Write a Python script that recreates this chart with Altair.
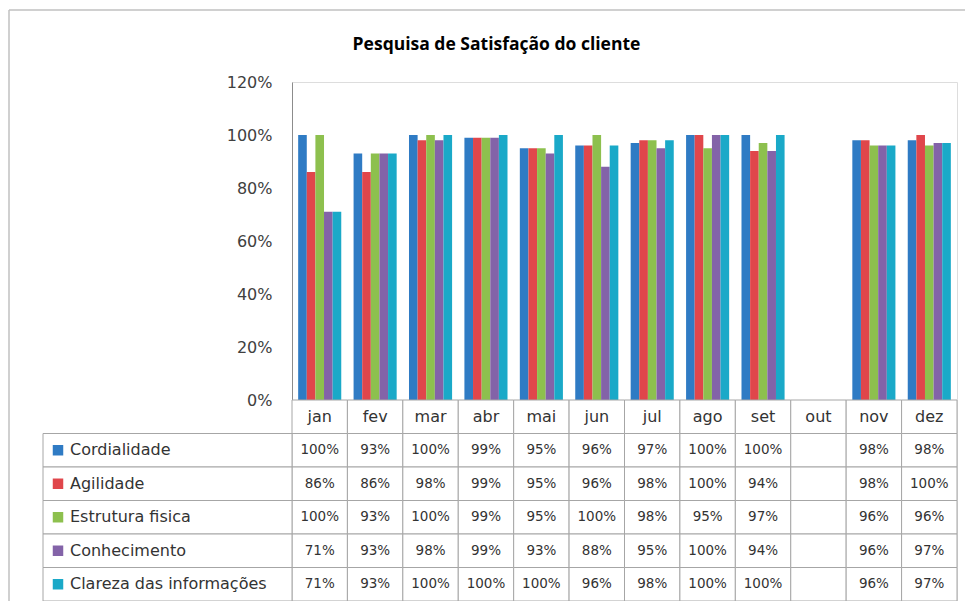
import altair as alt
import pandas as pd

months = ["jan", "fev", "mar", "abr", "mai", "jun", "jul", "ago", "set", "out", "nov", "dez"]
data_months = ["jan", "fev", "mar", "abr", "mai", "jun", "jul", "ago", "set", "nov", "dez"]
series = ["Cordialidade", "Agilidade", "Estrutura fisica", "Conhecimento", "Clareza das informações"]
colors = ["#2F7BC4", "#E0464B", "#8DC04E", "#8363A8", "#1AA9C8"]

cordialidade = [1.00, 0.93, 1.00, 0.99, 0.95, 0.96, 0.97, 1.00, 1.00, 0.98, 0.98]
agilidade = [0.86, 0.86, 0.98, 0.99, 0.95, 0.96, 0.98, 1.00, 0.94, 0.98, 1.00]
estrutura = [1.00, 0.93, 1.00, 0.99, 0.95, 1.00, 0.98, 0.95, 0.97, 0.96, 0.96]
conhecimento = [0.71, 0.93, 0.98, 0.99, 0.93, 0.88, 0.95, 1.00, 0.94, 0.96, 0.97]
clareza = [0.71, 0.93, 1.00, 1.00, 1.00, 0.96, 0.98, 1.00, 1.00, 0.96, 0.97]
y_ticks = [0, 0.2, 0.4, 0.6, 0.8, 1.0, 1.2]

title = "Pesquisa de Satisfação do cliente"

values = [cordialidade, agilidade, estrutura, conhecimento, clareza]
rows = []
for s, vals in zip(series, values):
    for m, v in zip(data_months, vals):
        rows.append({"month": m, "series": s, "value": v, "row": s})
df = pd.DataFrame(rows)

HDR = "hdr"
row_domain = [HDR] + series

W = 665
BAR_H = 318
ROW = 33.5
H = BAR_H + 6 * ROW

cells = pd.DataFrame([{"month": m, "row": r} for r in row_domain for m in months])
header = pd.DataFrame([{"month": m, "row": HDR} for m in months])
labels = pd.DataFrame([{"row": s, "series": s} for s in series])
frame = pd.DataFrame([{"k": 1}])

FONT = "DejaVu Sans"
TXT = "#333333"
GRID = "#A6A6A6"
FRAME = "#C0C0C0"

xscale = alt.Scale(domain=months, paddingInner=0, paddingOuter=0)
yrow = alt.Scale(domain=row_domain, range=[BAR_H, H], paddingInner=0, paddingOuter=0)
cscale = alt.Scale(domain=series, range=colors)

bars = alt.Chart(df).mark_bar().encode(
    x=alt.X("month:N", scale=xscale, axis=None),
    xOffset=alt.XOffset("series:N", scale=alt.Scale(domain=series, paddingInner=0, paddingOuter=0.715)),
    y=alt.Y(
        "value:Q",
        scale=alt.Scale(domain=[0, 1.2], range=[BAR_H, 0], nice=False),
        axis=alt.Axis(
            format="%", values=y_ticks, ticks=False, grid=False, title=None,
            labelFont=FONT, labelFontSize=16, labelColor="#404040",
            labelPadding=20, domainColor="#8C8C8C",
        ),
    ),
    color=alt.Color("series:N", scale=cscale, legend=None),
)

frame_left = alt.Chart(frame).mark_rule(color=FRAME, strokeWidth=1.5).encode(
    x=alt.value(-283), y=alt.value(-72), y2=alt.value(H + 20)
)
frame_top = alt.Chart(frame).mark_rule(color=FRAME, strokeWidth=1.5).encode(
    x=alt.value(-283), x2=alt.value(W + 20), y=alt.value(-72)
)

cell_rects = alt.Chart(cells).mark_rect(fill="white", stroke=GRID, strokeWidth=1).encode(
    x=alt.X("month:N", scale=xscale, axis=None),
    y=alt.Y("row:N", scale=yrow, axis=None),
)

label_rects = alt.Chart(labels).mark_rect(fill="white", stroke=GRID, strokeWidth=1).encode(
    x=alt.value(-249), x2=alt.value(0),
    y=alt.Y("row:N", scale=yrow, axis=None),
)

squares = alt.Chart(labels).mark_square(size=110, opacity=1, filled=True).encode(
    x=alt.value(-234),
    y=alt.Y("row:N", scale=yrow, axis=None),
    color=alt.Color("series:N", scale=cscale, legend=None),
)

label_text = alt.Chart(labels).mark_text(
    align="left", baseline="middle", font=FONT, fontSize=16, color=TXT
).encode(
    x=alt.value(-222),
    y=alt.Y("row:N", scale=yrow, axis=None),
    text="row:N",
)

header_text = alt.Chart(header).mark_text(
    align="center", baseline="middle", font=FONT, fontSize=16, color=TXT
).encode(
    x=alt.X("month:N", scale=xscale, axis=None),
    y=alt.Y("row:N", scale=yrow, axis=None),
    text="month:N",
)

value_text = alt.Chart(df).mark_text(
    align="center", baseline="middle", font=FONT, fontSize=13.5, color=TXT
).encode(
    x=alt.X("month:N", scale=xscale, axis=None),
    y=alt.Y("row:N", scale=yrow, axis=None),
    text=alt.Text("value:Q", format=".0%"),
)

table = alt.layer(cell_rects, label_rects, squares, label_text, header_text, value_text)

chart = alt.layer(frame_left, frame_top, bars, table).resolve_scale(y="independent").properties(
    width=W,
    height=H,
    title=alt.TitleParams(
        title, font="Open Sans", fontSize=17.5, fontWeight="bold", color="#000000",
        anchor="middle", frame="group", dx=-128, offset=0, dy=44,
    ),
    autosize=alt.AutoSizeParams(type="none"),
    padding={"left": 284, "top": 74, "right": 8, "bottom": 0},
).configure_view(stroke=None).configure(background="white")

chart.save("out.html", embed_options={"renderer": "svg", "actions": False})
